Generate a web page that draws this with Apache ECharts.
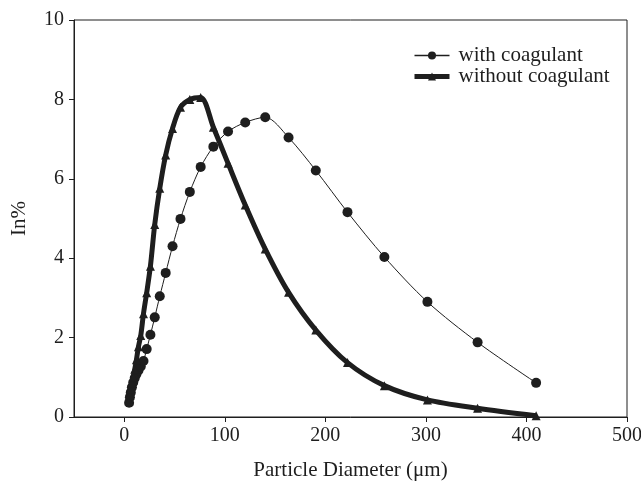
<!DOCTYPE html>
<html>
<head>
<meta charset="utf-8">
<script src="https://cdn.jsdelivr.net/npm/echarts@6/dist/echarts.min.js"></script>
<style>
  html, body { margin: 0; padding: 0; background: #fff; }
  #chart { width: 641px; height: 482px; }
</style>
</head>
<body>
<div id="chart"></div>
<script>
// particle diameter bins (um)
var diameters = [4.8, 5.6, 6.5, 7.6, 8.9, 10.4, 12.1, 14.1, 16.4, 19.1, 22.3, 26, 30.3, 35.3, 41.2, 48, 55.9, 65.2, 76, 88.6, 103.2, 120.3, 140.2, 163.4, 190.5, 222, 258.7, 301.5, 351.4, 409.6];
var withCoagulant = [0.36, 0.5, 0.62, 0.75, 0.87, 0.98, 1.08, 1.17, 1.27, 1.41, 1.71, 2.07, 2.51, 3.04, 3.63, 4.3, 4.99, 5.67, 6.3, 6.81, 7.19, 7.42, 7.55, 7.04, 6.21, 5.16, 4.03, 2.9, 1.88, 0.86];
var withoutCoagulant = [0.4, 0.55, 0.7, 0.85, 1.0, 1.2, 1.44, 1.77, 2.05, 2.6, 3.13, 3.8, 4.85, 5.76, 6.6, 7.27, 7.8, 8.0, 8.05, 7.3, 6.39, 5.34, 4.23, 3.14, 2.19, 1.37, 0.79, 0.43, 0.22, 0.03];
var xTicks = [0, 100, 200, 300, 400, 500];

function pairs(xs, ys) {
  return xs.map(function (x, i) { return [x, ys[i]]; });
}

var ink = '#1e1e1e';
var font = 'Liberation Serif';

var myChart = echarts.init(document.getElementById('chart'));
var options = {
  animation: false,
  textStyle: { fontFamily: font, color: ink },
  grid: {
    left: 74, right: 14, top: 20, bottom: 65,
    outerBoundsMode: 'none',
    show: true, borderColor: ink, borderWidth: 1
  },
  legend: {
    left: 407, top: 40,
    orient: 'vertical',
    itemGap: 0,
    itemWidth: 35, itemHeight: 10,
    textStyle: { fontFamily: font, fontSize: 21, color: ink, lineHeight: 19, padding: [0, 0, 0, 4] },
    data: [
      { name: 'with coagulant', lineStyle: { width: 1.5 } },
      { name: 'without coagulant', lineStyle: { width: 5 } }
    ]
  },
  xAxis: {
    type: 'value',
    min: -50, max: 500,
    name: 'Particle Diameter (\u03bcm)',
    nameLocation: 'middle',
    nameGap: 43,
    nameTextStyle: { fontFamily: font, fontSize: 21, color: ink },
    axisLine: { show: true, onZero: false, lineStyle: { color: ink } },
    axisTick: { show: true, length: 5, customValues: xTicks, lineStyle: { color: ink } },
    axisLabel: { customValues: xTicks, margin: 9, fontFamily: font, fontSize: 20, color: ink },
    splitLine: { show: false }
  },
  yAxis: {
    type: 'value',
    min: 0, max: 10, interval: 2,
    name: 'In%',
    nameLocation: 'middle',
    nameGap: 44,
    nameTextStyle: { fontFamily: font, fontSize: 21, color: ink },
    axisLine: { show: true, onZero: false, lineStyle: { color: ink } },
    axisTick: { show: true, length: 5, lineStyle: { color: ink } },
    axisLabel: { margin: 10, fontFamily: font, fontSize: 20, color: ink },
    splitLine: { show: false }
  },
  series: [{
    name: 'with coagulant',
    type: 'line',
    data: pairs(diameters, withCoagulant),
    smooth: 0.3,
    symbol: 'circle',
    symbolSize: 10,
    itemStyle: { color: ink },
    lineStyle: { color: ink, width: 1 }
  }, {
    name: 'without coagulant',
    type: 'line',
    data: pairs(diameters, withoutCoagulant),
    smooth: 0.3,
    symbol: 'triangle',
    symbolSize: 9,
    itemStyle: { color: ink },
    lineStyle: { color: ink, width: 5 }
  }]
};
myChart.setOption(options);
</script>
</body>
</html>
